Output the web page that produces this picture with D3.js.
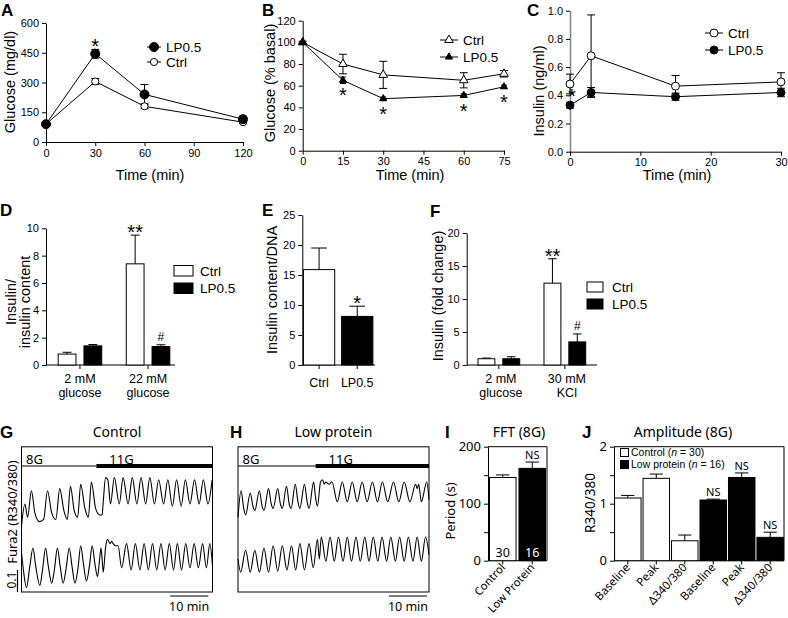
<!DOCTYPE html>
<html><head><meta charset="utf-8">
<script src="https://cdn.jsdelivr.net/npm/d3@7/dist/d3.min.js"></script>
<style>html,body{margin:0;padding:0;background:#fff;}svg{display:block;background:#fff;}</style>
</head><body>
<svg id="fig" width="788" height="618"></svg>
<script>
// ================= DATA =================
// A: glucose tolerance
const aTime = [0, 30, 60, 120];
const aLP = [90, 445, 240, 115];
const aLPErr = [8, 22, 50, 15];
const aCtrl = [90, 305, 180, 100];
const aCtrlErr = [5, 15, 12, 6];
const aXTicks = [0, 30, 60, 90, 120];
const aYTicks = [0, 150, 300, 450, 600];
// B: insulin tolerance
const bTime = [0, 15, 30, 60, 75];
const bCtrl = [100, 80, 70, 65, 71];
const bCtrlErr = [1, 9, 12.5, 7, 3];
const bLP = [100, 65, 48, 51, 59];
const bLPErr = [1, 3, 1.5, 1.5, 1.5];
const bStars = [15, 30, 60, 75];
const bXTicks = [0, 15, 30, 45, 60, 75];
const bYTicks = [0, 20, 40, 60, 80, 100, 120];
// C: plasma insulin
const cTime = [0, 3, 15, 30];
const cCtrl = [0.48, 0.68, 0.465, 0.495];
const cCtrlErr = [0.07, 0.29, 0.075, 0.065];
const cLP = [0.33, 0.42, 0.39, 0.42];
const cLPErr = [0.02, 0.035, 0.025, 0.03];
const cXTicks = [0, 10, 20, 30];
const cYTicks = [0, 0.2, 0.4, 0.6, 0.8, 1.0];
// D: insulin secretion / content
const dGroups = ['2 mM|glucose', '22 mM|glucose'];
const dCtrl = [0.8, 7.4];
const dCtrlErr = [0.13, 2.1];
const dLP = [1.4, 1.35];
const dLPErr = [0.1, 0.13];
const dYTicks = [0, 2, 4, 6, 8, 10];
// E: insulin content / DNA
const eCats = ['Ctrl', 'LP0.5'];
const eVals = [15.9, 8.1];
const eErr = [3.6, 1.7];
const eYTicks = [0, 5, 10, 15, 20, 25];
// F: insulin fold change
const fGroups = ['2 mM|glucose', '30 mM|KCl'];
const fCtrl = [0.95, 12.4];
const fCtrlErr = [0.1, 3.7];
const fLP = [0.95, 3.5];
const fLPErr = [0.3, 1.2];
const fYTicks = [0, 5, 10, 15, 20];
// G/H: Fura-2 traces [time (min), ratio offset]
const gSwitch = 19.6;
const hSwitch = 20.3;
const gTop = [[0,0.30],[0.9,0.40],[1.6,0.34],[2.6,0.46],[3.5,0.36],[4.7,0.32],[5.8,0.33],[6.8,0.46],[7.9,0.36],[9.0,0.33],[10.0,0.47],[11.1,0.37],[12.0,0.33],[12.8,0.48],[13.8,0.37],[14.7,0.34],[15.5,0.49],[16.6,0.38],[17.5,0.34],[18.3,0.50],[19.4,0.38],[20.5,0.35],[21.1,0.35],[21.4,0.41],[22.0,0.52],[22.6,0.51],[23.3,0.40],[24.3,0.52],[25.6,0.40],[26.6,0.52],[27.9,0.40],[29.0,0.52],[30.2,0.40],[31.3,0.52],[32.5,0.40],[33.6,0.52],[34.8,0.40],[35.9,0.51],[37.2,0.40],[38.3,0.51],[39.5,0.39],[40.6,0.51],[41.8,0.39],[42.9,0.51],[44.1,0.40],[45.3,0.51],[46.5,0.40],[47.6,0.51],[48.8,0.40],[49.9,0.51]];
const gBot = [[0,0.18],[0.5,0.10],[1.3,0.02],[2.2,0.12],[3.0,0.20],[3.7,0.12],[4.8,0.03],[5.5,0.10],[6.3,0.20],[7.0,0.12],[7.9,0.04],[8.6,0.10],[9.4,0.20],[10.1,0.12],[10.9,0.04],[11.7,0.11],[12.5,0.20],[13.2,0.12],[14.0,0.04],[14.8,0.11],[15.5,0.21],[16.2,0.13],[17.0,0.05],[17.8,0.12],[18.5,0.21],[19.2,0.13],[19.9,0.07],[20.4,0.14],[20.8,0.20],[21.1,0.15],[21.4,0.09],[22.0,0.20],[22.5,0.24],[23.2,0.22],[23.6,0.23],[24.0,0.22],[24.6,0.21],[25.3,0.21],[26.2,0.11],[27.5,0.22],[28.7,0.10],[29.8,0.22],[31.0,0.10],[32.1,0.22],[33.2,0.10],[34.3,0.22],[35.4,0.10],[36.5,0.22],[37.6,0.10],[38.7,0.22],[39.8,0.10],[40.8,0.22],[41.9,0.10],[43.0,0.22],[44.1,0.11],[45.2,0.22],[46.3,0.11],[47.4,0.22],[48.4,0.11],[49.3,0.22],[50,0.12]];
const hTop = [[0,0.34],[0.8,0.46],[1.5,0.38],[2.0,0.35],[3.2,0.45],[3.9,0.39],[4.4,0.37],[5.6,0.46],[6.3,0.39],[6.8,0.37],[8.0,0.47],[8.7,0.40],[9.2,0.38],[10.4,0.47],[11.1,0.40],[11.6,0.38],[12.7,0.48],[13.4,0.40],[13.9,0.38],[15.0,0.49],[15.7,0.41],[16.2,0.38],[17.4,0.49],[18.1,0.41],[18.6,0.38],[19.8,0.50],[20.3,0.43],[20.8,0.39],[21.6,0.50],[22.1,0.51],[22.6,0.49],[23.0,0.50],[23.8,0.49],[24.6,0.50],[26.0,0.41],[27.3,0.50],[28.6,0.41],[29.9,0.50],[31.2,0.41],[32.5,0.50],[33.8,0.41],[35.2,0.50],[36.5,0.41],[37.8,0.50],[39.2,0.41],[40.7,0.50],[42.1,0.41],[43.5,0.50],[45.0,0.41],[46.5,0.49],[46.9,0.47],[47.3,0.49],[48.0,0.41],[49.4,0.50],[50,0.42]];
const hBot = [[0,0.15],[0.7,0.09],[2.0,0.19],[3.2,0.09],[4.4,0.19],[5.6,0.09],[6.8,0.20],[8.0,0.09],[9.2,0.21],[10.4,0.095],[11.6,0.21],[12.8,0.10],[14.0,0.21],[15.1,0.10],[16.2,0.22],[17.4,0.10],[18.6,0.22],[19.7,0.11],[20.8,0.24],[21.3,0.15],[21.8,0.25],[23.0,0.14],[24.1,0.25],[25.2,0.14],[26.3,0.25],[27.5,0.14],[28.6,0.25],[29.7,0.14],[30.9,0.25],[32.0,0.14],[33.2,0.25],[34.3,0.14],[35.4,0.25],[36.6,0.14],[37.7,0.25],[38.9,0.14],[40.0,0.25],[41.2,0.14],[42.3,0.25],[43.5,0.14],[44.6,0.25],[45.8,0.14],[46.9,0.25],[48.0,0.14],[49.1,0.25],[50,0.17]];
// I: FFT period
const iCats = ['Control', 'Low Protein'];
const iVals = [146, 162];
const iErr = [4.5, 11];
const iN = ['30', '16'];
const iYTicks = [0, 50, 100, 150, 200];
// J: amplitude
const jCats = ['Baseline', 'Peak', 'Δ340/380', 'Baseline', 'Peak', 'Δ340/380'];
const jGroup = ['Control', 'Control', 'Control', 'Low protein', 'Low protein', 'Low protein'];
const jVals = [1.1, 1.445, 0.35, 1.065, 1.46, 0.41];
const jErr = [0.045, 0.075, 0.1, 0.015, 0.08, 0.09];
const jYTicks = [0, 0.5, 1, 1.5, 2];

// ================= HELPERS =================
const svg = d3.select('#fig');
const SANS = "'Liberation Sans', Arial, Helvetica, sans-serif";
const HUM = "'Noto Sans', 'Open Sans', sans-serif";

function styleAxis(g, fs, fam) {
  g.attr('font-size', fs).attr('font-family', fam);
  g.selectAll('path.domain').attr('stroke', '#000').attr('stroke-width', 1);
  g.selectAll('.tick line').attr('stroke', '#000');
  g.selectAll('.tick text').attr('fill', '#000');
  return g;
}
function txt(x, y, s, o = {}) {
  const t = svg.append('text').attr('x', x).attr('y', y).text(s)
    .attr('font-family', o.fam || SANS).attr('font-size', o.fs || 14)
    .attr('text-anchor', o.anchor || 'start').attr('fill', o.fill || '#000');
  if (o.bold) t.attr('font-weight', 'bold');
  if (o.rot) t.attr('transform', `rotate(${o.rot},${x},${y})`);
  return t;
}
function line(x1, y1, x2, y2, w = 1, c = '#000') {
  svg.append('line').attr('x1', x1).attr('y1', y1).attr('x2', x2).attr('y2', y2)
    .attr('stroke', c).attr('stroke-width', w);
}
function star(x, yc, s = '*', fs = 20) { txt(x, yc + fs * 0.58, s, { fs, anchor: 'middle' }); }
function hash(x, yc, fs = 12) { txt(x, yc + fs * 0.36, '#', { fs, anchor: 'middle' }); }
const MK = {
  circleF: [d3.symbolCircle, 64, '#000'], circleO: [d3.symbolCircle, 40, '#fff'],
  circleF2: [d3.symbolCircle, 50, '#000'], circleO2: [d3.symbolCircle, 50, '#fff'],
  triF: [d3.symbolTriangle, 22, '#000'], triO: [d3.symbolTriangle, 32, '#fff']
};
function marker(x, y, kind) {
  const m = MK[kind];
  svg.append('path').attr('d', d3.symbol().type(m[0]).size(m[1])())
    .attr('transform', `translate(${x},${y})`).attr('fill', m[2]).attr('stroke', '#000').attr('stroke-width', 1);
}
function series(xs, ys, t, v, e, kind, cap = 8) {
  svg.append('path').datum(t.map((d, i) => [d, v[i]]))
    .attr('d', d3.line().x(d => xs(d[0])).y(d => ys(d[1])))
    .attr('fill', 'none').attr('stroke', '#000').attr('stroke-width', 1);
  t.forEach((d, i) => {
    const x = xs(d), y0 = ys(v[i] - e[i]), y1 = ys(v[i] + e[i]);
    line(x, y0, x, y1);
    line(x - cap / 2, y0, x + cap / 2, y0);
    line(x - cap / 2, y1, x + cap / 2, y1);
  });
  return () => t.forEach((d, i) => marker(xs(d), ys(v[i]), kind));
}
function legendLine(x1, x2, y, kind, label, fs = 13.5) {
  line(x1, y, x2, y);
  marker((x1 + x2) / 2, y, kind);
  txt(x2 + 5, y + fs * 0.36, label, { fs });
}
function ylab(x, y, s, fs = 14.5, fam = SANS) { txt(x, y, s, { fs, fam, anchor: 'middle', rot: -90 }); }
function bar(x, w, ys, v, e, filled) {
  const cx = x + w / 2, top = ys(v), capY = ys(v + e);
  line(cx, top, cx, capY);
  line(cx - w / 4, capY, cx + w / 4, capY);
  svg.append('rect').attr('x', x).attr('y', top).attr('width', w).attr('height', ys(0) - top)
    .attr('fill', filled ? '#000' : '#fff').attr('stroke', '#000').attr('stroke-width', 1);
  return capY;
}
function panelLetter(x, y, s) { txt(x, y, s, { fs: 17, bold: true }); }
const TF = 11; // tick font size (top panels)

// ================= PANEL A =================
{
  const xs = d3.scaleLinear().domain([0, 120]).range([46, 243]);
  const ys = d3.scaleLinear().domain([0, 600]).range([142, 23]);
  styleAxis(svg.append('g').attr('transform', 'translate(46,0)')
    .call(d3.axisLeft(ys).tickValues(aYTicks).tickSize(4).tickSizeOuter(0)), TF, SANS);
  styleAxis(svg.append('g').attr('transform', 'translate(0,142)')
    .call(d3.axisBottom(xs).tickValues(aXTicks).tickSize(4).tickSizeOuter(0)), TF, SANS);
  const m2 = series(xs, ys, aTime, aCtrl, aCtrlErr, 'circleO');
  const m1 = series(xs, ys, aTime, aLP, aLPErr, 'circleF');
  m2(); m1();
  star(xs(30), ys(aLP[1] + aLPErr[1]) - 8);
  legendLine(147, 161, 47, 'circleF', 'LP0.5');
  legendLine(147, 161, 62, 'circleO', 'Ctrl');
  ylab(14.8, 82, 'Glucose (mg/dl)');
  txt(150, 180, 'Time (min)', { fs: 14.5, anchor: 'middle' });
  panelLetter(1, 16, 'A');
}
// ================= PANEL B =================
{
  const xs = d3.scaleLinear().domain([0, 75]).range([302.7, 504]);
  const ys = d3.scaleLinear().domain([0, 120]).range([150.7, 20.7]);
  styleAxis(svg.append('g').attr('transform', 'translate(302.7,0)')
    .call(d3.axisLeft(ys).tickValues(bYTicks).tickSize(4).tickSizeOuter(0)), TF, SANS);
  styleAxis(svg.append('g').attr('transform', 'translate(0,150.7)')
    .call(d3.axisBottom(xs).tickValues(bXTicks).tickSize(4).tickSizeOuter(0)), TF, SANS);
  const m1 = series(xs, ys, bTime, bCtrl, bCtrlErr, 'triO', 8);
  const m2 = series(xs, ys, bTime, bLP, bLPErr, 'triF', 6);
  m1(); m2();
  bStars.forEach(t => { const i = bTime.indexOf(t); star(xs(t), ys(bLP[i]) + 10.5); });
  legendLine(440, 458, 40, 'triO', 'Ctrl');
  legendLine(440, 458, 57, 'triF', 'LP0.5');
  ylab(274.8, 83, 'Glucose (% basal)');
  txt(410, 180, 'Time (min)', { fs: 14.5, anchor: 'middle' });
  panelLetter(262, 16, 'B');
}
// ================= PANEL C =================
{
  const xs = d3.scaleLinear().domain([0, 30]).range([570, 781]);
  const ys = d3.scaleLinear().domain([0, 1]).range([151.7, 10.7]);
  const gy = styleAxis(svg.append('g').attr('transform', 'translate(570,0)')
    .call(d3.axisLeft(ys).tickValues(cYTicks).tickFormat(d3.format('.1f')).tickSize(4).tickSizeOuter(0)), TF, SANS);
  gy.selectAll('path.domain').attr('stroke', '#8a8a8a').attr('stroke-width', 1.6);
  styleAxis(svg.append('g').attr('transform', 'translate(0,151.7)')
    .call(d3.axisBottom(xs).tickValues(cXTicks).tickSize(4).tickSizeOuter(0)), TF, SANS);
  const m1 = series(xs, ys, cTime, cCtrl, cCtrlErr, 'circleO2', 8);
  const m2 = series(xs, ys, cTime, cLP, cLPErr, 'circleF2', 8);
  m1(); m2();
  star(xs(0) + 2, 91.5);
  legendLine(705, 723, 33, 'circleO2', 'Ctrl');
  legendLine(705, 723, 50, 'circleF2', 'LP0.5');
  ylab(543.5, 91, 'Insulin (ng/ml)');
  txt(677, 180, 'Time (min)', { fs: 14.5, anchor: 'middle' });
  panelLetter(527, 16, 'C');
}
// ================= PANEL D =================
{
  const ys = d3.scaleLinear().domain([0, 10]).range([365, 228.3]);
  const x0 = d3.scaleBand().domain(dGroups).range([50, 178]).paddingInner(0.36).paddingOuter(0.12);
  const x1 = d3.scaleBand().domain(['Ctrl', 'LP0.5']).range([0, x0.bandwidth()]).paddingInner(0.31);
  styleAxis(svg.append('g').attr('transform', 'translate(46,0)')
    .call(d3.axisLeft(ys).tickValues(dYTicks).tickSize(4).tickSizeOuter(0)), TF, SANS);
  const gx = svg.append('g').attr('transform', 'translate(0,365)')
    .call(d3.axisBottom(x0).tickSize(4).tickSizeOuter(0).tickFormat(''));
  gx.select('path.domain').remove(); styleAxis(gx, 10, SANS);
  line(46, 365, 175, 365);
  const caps = [];
  dGroups.forEach((g, i) => {
    const xa = x0(g);
    caps.push(bar(xa + x1('Ctrl'), x1.bandwidth(), ys, dCtrl[i], dCtrlErr[i], false));
    caps.push(bar(xa + x1('LP0.5'), x1.bandwidth(), ys, dLP[i], dLPErr[i], true));
    const cx = xa + x0.bandwidth() / 2, parts = g.split('|');
    txt(cx, 382.5, parts[0], { fs: 12.5, anchor: 'middle' });
    txt(cx, 397, parts[1], { fs: 12.5, anchor: 'middle' });
  });
  star(x0(dGroups[1]) + x1('Ctrl') + x1.bandwidth() / 2, caps[2] - 8, '**');
  hash(x0(dGroups[1]) + x1('LP0.5') + x1.bandwidth() / 2, caps[3] - 8);
  svg.append('rect').attr('x', 174).attr('y', 265.5).attr('width', 19).attr('height', 10.5).attr('fill', '#fff').attr('stroke', '#000');
  svg.append('rect').attr('x', 174).attr('y', 283).attr('width', 19).attr('height', 10.5).attr('fill', '#000').attr('stroke', '#000');
  txt(200, 275.5, 'Ctrl', { fs: 13.5 });
  txt(200, 293, 'LP0.5', { fs: 13.5 });
  ylab(15.5, 302, 'Insulin/');
  ylab(30, 302, 'insulin content');
  panelLetter(0, 216, 'D');
}
// ================= PANEL E =================
{
  const ys = d3.scaleLinear().domain([0, 25]).range([365, 215]);
  const xs = d3.scaleBand().domain(eCats).range([302.3, 374]).paddingInner(0.18).paddingOuter(0.03);
  styleAxis(svg.append('g').attr('transform', 'translate(302.3,0)')
    .call(d3.axisLeft(ys).tickValues(eYTicks).tickSize(4).tickSizeOuter(0)), TF, SANS);
  const gx = svg.append('g').attr('transform', 'translate(0,365)')
    .call(d3.axisBottom(xs).tickSize(4).tickSizeOuter(0).tickFormat(''));
  gx.select('path.domain').remove(); styleAxis(gx, 10, SANS);
  line(302.3, 365, 375, 365);
  eCats.forEach((c, i) => {
    const cap = bar(xs(c), xs.bandwidth(), ys, eVals[i], eErr[i], i === 1);
    txt(xs(c) + xs.bandwidth() / 2, 387, c, { fs: 12.5, anchor: 'middle' });
    if (i === 1) star(xs(c) + xs.bandwidth() / 2, cap - 8);
  });
  ylab(277, 290, 'Insulin content/DNA');
  panelLetter(262, 216, 'E');
}
// ================= PANEL F =================
{
  const ys = d3.scaleLinear().domain([0, 20]).range([365, 233]);
  const x0 = d3.scaleBand().domain(fGroups).range([466.7, 597]).paddingInner(0.368).paddingOuter(0.171);
  const x1 = d3.scaleBand().domain(['Ctrl', 'LP0.5']).range([0, x0.bandwidth()]).paddingInner(0.32);
  styleAxis(svg.append('g').attr('transform', 'translate(466.7,0)')
    .call(d3.axisLeft(ys).tickValues(fYTicks).tickSize(4).tickSizeOuter(0)), TF, SANS);
  const gx = svg.append('g').attr('transform', 'translate(0,365)')
    .call(d3.axisBottom(x0).tickSize(4).tickSizeOuter(0).tickFormat(''));
  gx.select('path.domain').remove(); styleAxis(gx, 10, SANS);
  line(466.7, 365, 597, 365);
  const caps = [];
  fGroups.forEach((g, i) => {
    const xa = x0(g);
    caps.push(bar(xa + x1('Ctrl'), x1.bandwidth(), ys, fCtrl[i], fCtrlErr[i], false));
    caps.push(bar(xa + x1('LP0.5'), x1.bandwidth(), ys, fLP[i], fLPErr[i], true));
    const cx = xa + x0.bandwidth() / 2, parts = g.split('|');
    txt(cx + 2, 383, parts[0], { fs: 12.5, anchor: 'middle' });
    txt(cx + 2, 397, parts[1], { fs: 12.5, anchor: 'middle' });
  });
  star(x0(fGroups[1]) + x1('Ctrl') + x1.bandwidth() / 2, caps[2] - 7, '**');
  hash(x0(fGroups[1]) + x1('LP0.5') + x1.bandwidth() / 2, caps[3] - 8);
  svg.append('rect').attr('x', 587).attr('y', 282).attr('width', 16).attr('height', 10).attr('fill', '#fff').attr('stroke', '#000');
  svg.append('rect').attr('x', 587).attr('y', 299).attr('width', 16).attr('height', 10).attr('fill', '#000').attr('stroke', '#000');
  txt(612, 291.5, 'Ctrl', { fs: 13.5 });
  txt(612, 308.5, 'LP0.5', { fs: 13.5 });
  ylab(443, 296, 'Insulin (fold change)');
  panelLetter(430, 217, 'F');
}
// ================= PANELS G / H =================
function tracePanel(x0, x1, top, bot, sw, title, letter, lx, barStart) {
  const xs = d3.scaleLinear().domain([0, 50]).range([x0, x1]);
  const ys = d3.scaleLinear().domain([0, 0.66]).range([592, 446.8]);
  const ln = d3.line().x(d => xs(d[0])).y(d => ys(d[1])).curve(d3.curveMonotoneX);
  [top, bot].forEach(dat => svg.append('path').datum(dat).attr('d', ln)
    .attr('fill', 'none').attr('stroke', '#000').attr('stroke-width', 1.1));
  svg.append('rect').attr('x', x0).attr('y', 446.8).attr('width', x1 - x0).attr('height', 592 - 446.8)
    .attr('fill', 'none').attr('stroke', '#000').attr('stroke-width', 1);
  line(x0, 466, xs(sw), 466, 1.2);
  line(xs(sw), 466, x1, 466, 3.8);
  txt(x0 + 4.5, 464, '8G', { fam: HUM, fs: 13 });
  txt(xs(sw) + 13, 464, '11G', { fam: HUM, fs: 13 });
  line(xs(barStart), 596, xs(barStart + 10), 596, 1.2);
  txt(xs(barStart + 5), 611, '10 min', { fam: HUM, fs: 12.5, anchor: 'middle' });
  txt((x0 + x1) / 2, 437, title, { fam: HUM, fs: 14, anchor: 'middle' });
  panelLetter(lx, 438, letter);
  return ys;
}
{
  const ys = tracePanel(21.5, 212.5, gTop, gBot, gSwitch, 'Control', 'G', 0, 38.9);
  line(17.5, ys(0), 17.5, ys(0.1), 1.2);
  ylab(15.5, 580, '0.1', 12, HUM);
  ylab(16.5, 512, 'Fura2 (R340/380)', 13, HUM);
  tracePanel(238, 429, hTop, hBot, hSwitch, 'Low protein', 'H', 230, 39.5);
}
// ================= PANEL I =================
{
  const ys = d3.scaleLinear().domain([0, 200]).range([560.7, 446.7]);
  const xs = d3.scaleBand().domain(iCats).range([488, 547]).paddingInner(0.1).paddingOuter(0.05);
  styleAxis(svg.append('g').attr('transform', 'translate(488,0)')
    .call(d3.axisLeft(ys).tickValues(iYTicks).tickFormat(d => d % 100 === 0 ? d : '').tickSize(4).tickSizeOuter(0)), 13, HUM);
  line(488, 446.7, 547, 446.7);
  line(547, 446.7, 547, 560.7);
  line(488, 560.7, 547, 560.7);
  iCats.forEach((c, i) => {
    const cx = xs(c) + xs.bandwidth() / 2;
    const cap = bar(xs(c), xs.bandwidth(), ys, iVals[i], iErr[i], i === 1);
    line(cx, 560.7, cx, 564.5);
    txt(cx, 557, iN[i], { fam: HUM, fs: 12.5, anchor: 'middle', fill: i === 1 ? '#fff' : '#000' });
    txt(cx + 3, 568, c, { fam: HUM, fs: 11.2, anchor: 'end', rot: -47 });
    if (i === 1) txt(cx, cap - 3, 'NS', { fam: HUM, fs: 11, anchor: 'middle' });
  });
  ylab(455, 511, 'Period (s)', 13, HUM);
  txt(519, 437, 'FFT (8G)', { fam: HUM, fs: 14, anchor: 'middle' });
  panelLetter(445, 438, 'I');
}
// ================= PANEL J =================
{
  const ys = d3.scaleLinear().domain([0, 2]).range([560.7, 446.7]);
  const xs = d3.scaleBand().domain(d3.range(jCats.length)).range([614, 784]).paddingInner(0.07).paddingOuter(0.02);
  styleAxis(svg.append('g').attr('transform', 'translate(614,0)')
    .call(d3.axisLeft(ys).tickValues(jYTicks).tickFormat(d => Number.isInteger(d) ? d : '').tickSize(4).tickSizeOuter(0)), 13, HUM);
  line(614, 446.7, 784, 446.7);
  line(784, 446.7, 784, 560.7);
  line(614, 560.7, 784, 560.7);
  jCats.forEach((c, i) => {
    const cx = xs(i) + xs.bandwidth() / 2;
    const filled = jGroup[i] !== 'Control';
    const cap = bar(xs(i), xs.bandwidth(), ys, jVals[i], jErr[i], filled);
    line(cx, 560.7, cx, 564.5);
    txt(cx + 3, 568, c, { fam: HUM, fs: 11.5, anchor: 'end', rot: -47 });
    if (filled) txt(cx, cap - 3, 'NS', { fam: HUM, fs: 11, anchor: 'middle' });
  });
  // legend (one text element per line, italic n as tspan)
  svg.append('rect').attr('x', 620.5).attr('y', 448.5).attr('width', 8).attr('height', 8).attr('fill', '#fff').attr('stroke', '#000');
  svg.append('rect').attr('x', 620.5).attr('y', 460.5).attr('width', 8).attr('height', 8).attr('fill', '#000').attr('stroke', '#000');
  [['Control (', '\u00a0= 30)', 456.3], ['Low protein (', '\u00a0= 16)', 468.3]].forEach(p => {
    const t = txt(631, p[2], p[0], { fs: 10.5 });
    t.append('tspan').attr('font-style', 'italic').text('n');
    t.append('tspan').text(p[1]);
  });
  ylab(594.5, 503, 'R340/380', 13.5, HUM);
  txt(683, 437, 'Amplitude (8G)', { fam: HUM, fs: 14, anchor: 'middle' });
  panelLetter(582, 438, 'J');
}
</script>
</body></html>
